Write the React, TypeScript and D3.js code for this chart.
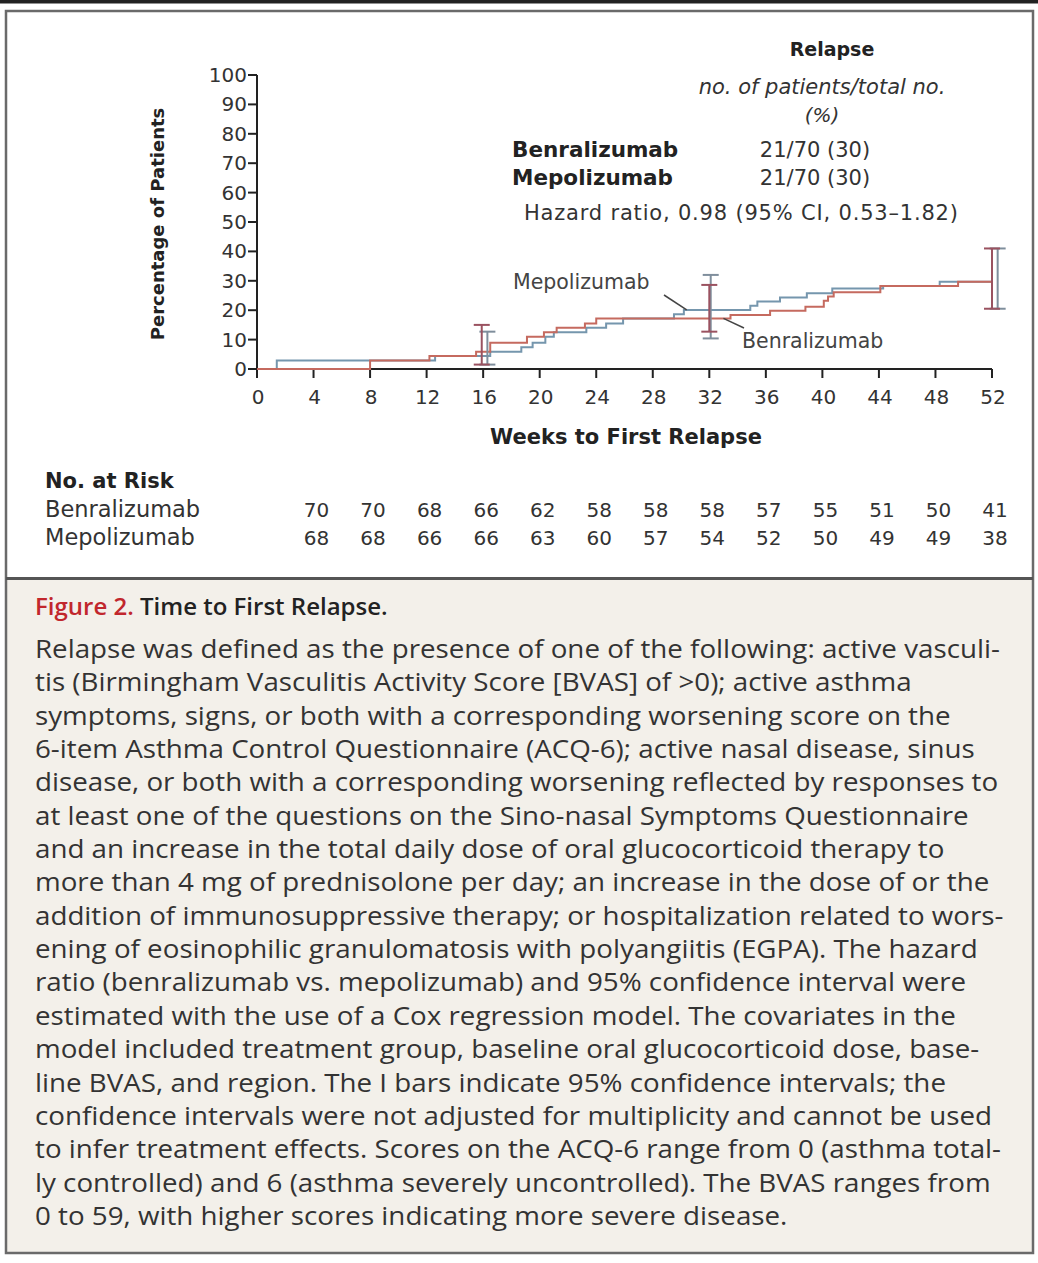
import React from 'react';
import * as d3 from 'd3';

// weeks and cumulative percentage at each step
const benraSteps: [number, number][] = [
  [0, 0], [8.0, 2.9], [12.2, 4.4], [15.5, 5.9], [16.5, 8.9], [19.1, 11.0], [20.3, 12.5],
  [21.2, 14.0], [23.2, 15.5], [24.0, 17.2], [33.5, 18.4], [36.3, 19.8], [38.8, 21.2],
  [40.1, 23.2], [40.4, 24.7], [40.8, 26.1], [44.1, 28.2], [49.6, 29.7], [52, 29.7],
];
const mepoSteps: [number, number][] = [
  [0, 0], [1.4, 2.9], [12.6, 4.4], [16.5, 5.9], [18.7, 7.4], [19.5, 8.9], [20.4, 11.0],
  [21.0, 12.5], [23.3, 14.0], [24.7, 15.5], [25.9, 17.2], [29.5, 18.6], [30.2, 20.1],
  [34.9, 21.5], [35.4, 23.0], [37.0, 24.3], [38.9, 25.8], [40.7, 27.4], [44.3, 28.2],
  [48.3, 29.7], [52, 29.7],
];

// 95% CI bars
const benraCI = [
  { week: 15.9, lo: 1.5, hi: 15.0 },
  { week: 32.0, lo: 12.7, hi: 28.6 },
  { week: 52.0, lo: 20.5, hi: 41.0 },
];
const mepoCI = [
  { week: 16.3, lo: 1.5, hi: 12.7 },
  { week: 32.1, lo: 10.4, hi: 32.0 },
  { week: 52.4, lo: 20.5, hi: 41.0 },
];

const xTicks = [0, 4, 8, 12, 16, 20, 24, 28, 32, 36, 40, 44, 48, 52];
const yTicks = [0, 10, 20, 30, 40, 50, 60, 70, 80, 90, 100];

const riskWeeks = [4, 8, 12, 16, 20, 24, 28, 32, 36, 40, 44, 48, 52];
const benraRisk = [70, 70, 68, 66, 62, 58, 58, 58, 57, 55, 51, 50, 41];
const mepoRisk = [68, 68, 66, 66, 63, 60, 57, 54, 52, 50, 49, 49, 38];

const captionLines = [
  'Relapse was defined as the presence of one of the following: active vasculi-',
  'tis (Birmingham Vasculitis Activity Score [BVAS] of >0); active asthma',
  'symptoms, signs, or both with a corresponding worsening score on the',
  '6-item Asthma Control Questionnaire (ACQ-6); active nasal disease, sinus',
  'disease, or both with a corresponding worsening reflected by responses to',
  'at least one of the questions on the Sino-nasal Symptoms Questionnaire',
  'and an increase in the total daily dose of oral glucocorticoid therapy to',
  'more than 4 mg of prednisolone per day; an increase in the dose of or the',
  'addition of immunosuppressive therapy; or hospitalization related to wors-',
  'ening of eosinophilic granulomatosis with polyangiitis (EGPA). The hazard',
  'ratio (benralizumab vs. mepolizumab) and 95% confidence interval were',
  'estimated with the use of a Cox regression model. The covariates in the',
  'model included treatment group, baseline oral glucocorticoid dose, base-',
  'line BVAS, and region. The I bars indicate 95% confidence intervals; the',
  'confidence intervals were not adjusted for multiplicity and cannot be used',
  'to infer treatment effects. Scores on the ACQ-6 range from 0 (asthma total-',
  'ly controlled) and 6 (asthma severely uncontrolled). The BVAS ranges from',
  '0 to 59, with higher scores indicating more severe disease.',
];

const RED = '#c56a5f';
const BLUE = '#7596ad';
const RED_BAR = '#9a5260';
const BLUE_BAR = '#7f8e9c';
const TXT = '#333';
const FONT = 'DejaVu Sans, sans-serif';
const CAP_FONT = 'Open Sans, sans-serif';

const W = 1038;
const H = 1263;

export default function App() {
  const x = d3.scaleLinear().domain([0, 52]).range([257, 992]);
  const y = d3.scaleLinear().domain([0, 100]).range([369, 75]);
  const line = d3
    .line<[number, number]>()
    .x((d) => x(d[0]))
    .y((d) => y(d[1]))
    .curve(d3.curveStepAfter);

  const bar = (ci: { week: number; lo: number; hi: number }, color: string, key: string) => {
    const cx = x(ci.week);
    return (
      <g key={key} stroke={color} strokeWidth={2} fill="none">
        <line x1={cx} x2={cx} y1={y(ci.lo)} y2={y(ci.hi)} />
        <line x1={cx - 8} x2={cx + 8} y1={y(ci.lo)} y2={y(ci.lo)} />
        <line x1={cx - 8} x2={cx + 8} y1={y(ci.hi)} y2={y(ci.hi)} />
      </g>
    );
  };

  return (
    <svg
      width={W}
      height={H}
      viewBox={`0 0 ${W} ${H}`}
      style={{ position: 'absolute', left: 0, top: 0, background: '#fff' }}
    >
      {/* frame */}
      <rect x={0} y={0} width={W} height={3.5} fill="#222" />
      <rect x={6} y={579} width={1027} height={674} fill="#f3f0ea" />
      <rect x={6} y={11} width={1027} height={1242} fill="none" stroke="#6a6a6a" strokeWidth={2.5} />
      <line x1={6} x2={1033} y1={578.5} y2={578.5} stroke="#555" strokeWidth={3} />

      {/* y axis */}
      <g fontFamily={FONT} fontSize={20} fill={TXT}>
        <line x1={x(0)} x2={x(0)} y1={y(0)} y2={y(100)} stroke="#222" strokeWidth={2} />
        {yTicks.map((t) => (
          <g key={t}>
            <line x1={x(0) - 9} x2={x(0)} y1={y(t)} y2={y(t)} stroke="#222" strokeWidth={2} />
            <text x={x(0) - 10} y={y(t) + 7} textAnchor="end">{t}</text>
          </g>
        ))}
        <text
          transform={`translate(164,224) rotate(-90)`}
          textAnchor="middle"
          fontWeight="bold"
          fontSize={18}
          fill="#222"
        >
          Percentage of Patients
        </text>
      </g>

      {/* x axis */}
      <g fontFamily={FONT} fontSize={20} fill={TXT}>
        <line x1={x(0)} x2={x(52)} y1={y(0)} y2={y(0)} stroke="#222" strokeWidth={2} />
        {xTicks.map((t) => (
          <g key={t}>
            <line x1={x(t)} x2={x(t)} y1={y(0)} y2={y(0) + 9} stroke="#222" strokeWidth={2} />
            <text x={x(t) + 1} y={y(0) + 35} textAnchor="middle">{t}</text>
          </g>
        ))}
        <text x={626} y={444} textAnchor="middle" fontWeight="bold" fontSize={21} fill="#222">
          Weeks to First Relapse
        </text>
      </g>

      {/* curves */}
      <path d={line(mepoSteps) ?? ''} fill="none" stroke={BLUE} strokeWidth={2} />
      <path d={line(benraSteps) ?? ''} fill="none" stroke={RED} strokeWidth={2} />
      {mepoCI.map((c, i) => bar(c, BLUE_BAR, 'm' + i))}
      {benraCI.map((c, i) => bar(c, RED_BAR, 'b' + i))}

      {/* curve labels */}
      <g fontFamily={FONT} fontSize={20.5} fill="#444">
        <text x={513} y={289}>Mepolizumab</text>
        <line x1={664} x2={x(30.4)} y1={295} y2={y(20.1)} stroke="#444" strokeWidth={1.5} />
        <text x={742} y={348}>Benralizumab</text>
        <line x1={744} x2={x(33.0)} y1={328} y2={y(17.2)} stroke="#444" strokeWidth={1.5} />
      </g>

      {/* legend */}
      <g fontFamily={FONT} fill="#222">
        <text x={832} y={56} textAnchor="middle" fontWeight="bold" fontSize={19}>Relapse</text>
        <text x={822} y={94} textAnchor="middle" fontStyle="italic" fontSize={21} fill={TXT}>
          no. of patients/total no.
        </text>
        <text x={822} y={122} textAnchor="middle" fontStyle="italic" fontSize={20} fill={TXT}>(%)</text>
        <text x={512} y={157} fontWeight="bold" fontSize={21.5}>Benralizumab</text>
        <text x={815} y={157} textAnchor="middle" fontSize={21} fill={TXT}>21/70 (30)</text>
        <text x={512} y={185} fontWeight="bold" fontSize={21.5}>Mepolizumab</text>
        <text x={815} y={185} textAnchor="middle" fontSize={21} fill={TXT}>21/70 (30)</text>
        <text x={524} y={220} fontSize={21} fill={TXT} textLength={434} lengthAdjust="spacing">
          Hazard ratio, 0.98 (95% CI, 0.53–1.82)
        </text>
      </g>

      {/* number at risk */}
      <g fontFamily={FONT} fontSize={20} fill={TXT}>
        <text x={45} y={488} fontWeight="bold" fill="#222" fontSize={21}>No. at Risk</text>
        <text x={45} y={517} fontSize={22.5}>Benralizumab</text>
        <text x={45} y={545} fontSize={22.5}>Mepolizumab</text>
        {riskWeeks.map((w, i) => (
          <g key={w}>
            <text x={x(w) + 3} y={517} textAnchor="middle">{benraRisk[i]}</text>
            <text x={x(w) + 3} y={545} textAnchor="middle">{mepoRisk[i]}</text>
          </g>
        ))}
      </g>

      {/* caption */}
      <g fontFamily={CAP_FONT} fill="#333">
        <text x={35} y={615} fontWeight={600} fontSize={24}>
          <tspan fill="#c1272d">Figure 2.</tspan>
          <tspan fill="#222"> Time to First Relapse.</tspan>
        </text>
        <g transform="translate(35,0) scale(1.11,1) translate(-35,0)" fontSize={25}>
          {captionLines.map((s, i) => (
            <text key={i} x={35} y={658 + i * 33.35}>{s}</text>
          ))}
        </g>
      </g>
    </svg>
  );
}
